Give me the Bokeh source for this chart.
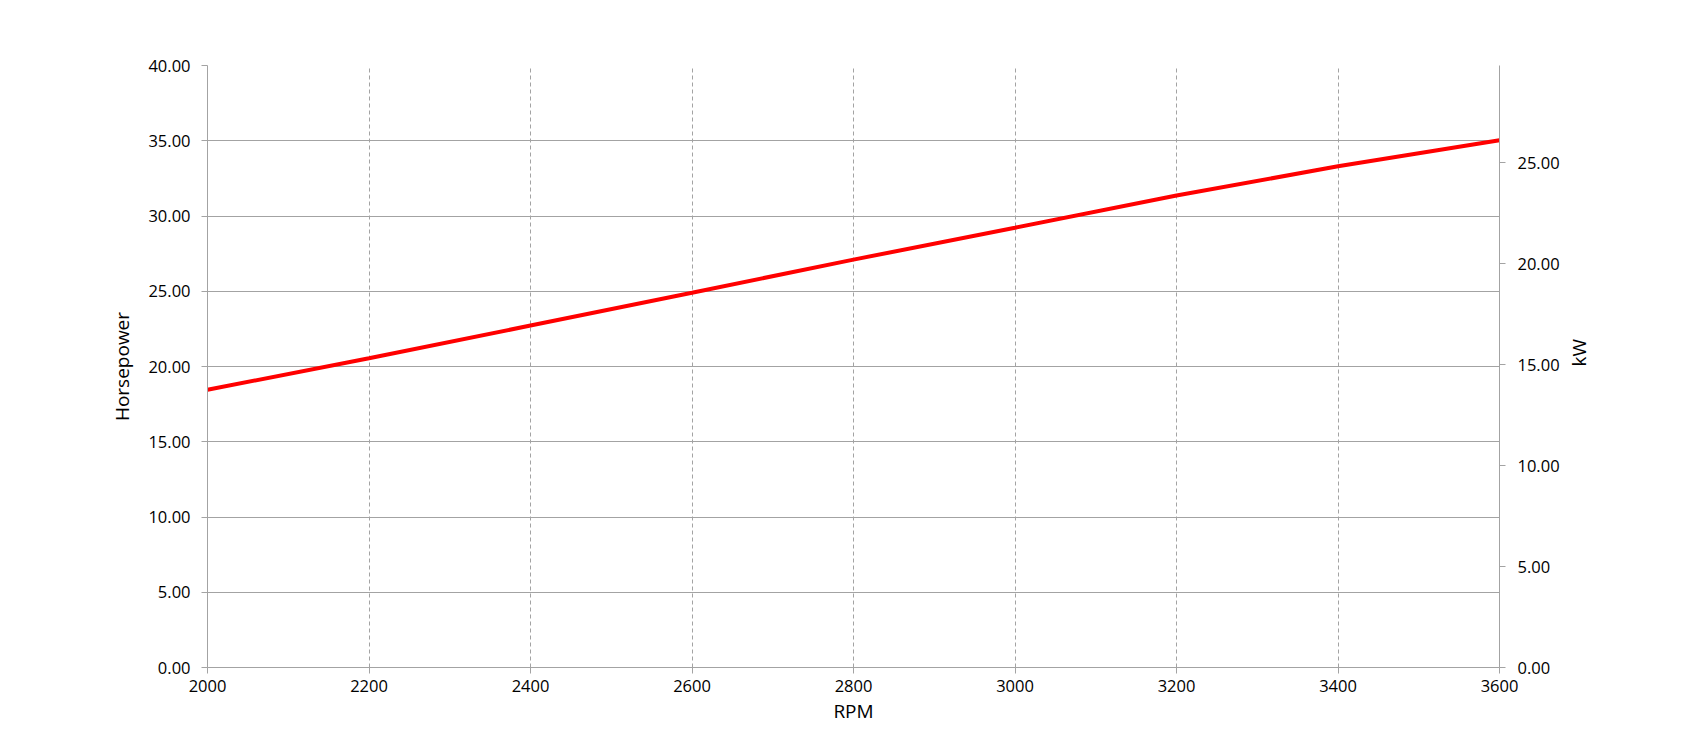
import math
from bokeh.plotting import figure
from bokeh.models import Range1d, LinearAxis, FixedTicker, PrintfTickFormatter
from bokeh.embed import file_html
from bokeh.resources import INLINE

# Data
rpm = [2000, 2200, 2400, 2600, 2800, 3000, 3200, 3400, 3600]
horsepower = [18.45, 20.55, 22.72, 24.9, 27.1, 29.22, 31.36, 33.3, 35.03]
x_ticks = [2000, 2200, 2400, 2600, 2800, 3000, 3200, 3400, 3600]
hp_ticks = [0, 5, 10, 15, 20, 25, 30, 35, 40]
kw_ticks = [0, 5, 10, 15, 20, 25]
hp_to_kw = 0.7457

FONT = "Open Sans"
GRID = "#a3a3a3"

p = figure(width=1667, height=739, output_backend="svg", toolbar_location=None,
           x_range=Range1d(2000, 3600), y_range=Range1d(0, 40),
           min_border_left=207, min_border_right=168, min_border_top=65, min_border_bottom=72)
p.outline_line_color = None
p.background_fill_color = "white"
p.border_fill_color = "white"

p.extra_y_ranges = {"kw": Range1d(0, 40 * hp_to_kw)}

# grids
p.xgrid.ticker = FixedTicker(ticks=x_ticks)
p.ygrid.ticker = FixedTicker(ticks=hp_ticks)
p.xgrid.grid_line_color = GRID
p.xgrid.grid_line_dash = "4 3"
p.xgrid.grid_line_width = 1
p.ygrid.grid_line_color = GRID
p.ygrid.grid_line_width = 1

def style_axis(ax):
    ax.axis_line_color = GRID
    ax.major_tick_line_color = GRID
    ax.minor_tick_line_color = None
    ax.major_tick_in = 0
    ax.major_tick_out = 6
    ax.major_label_text_font = FONT
    ax.major_label_text_font_size = "16.5px"
    ax.major_label_text_color = "black"
    ax.axis_label_text_font = FONT
    ax.axis_label_text_font_size = "19px"
    ax.axis_label_text_font_style = "normal"
    ax.axis_label_text_color = "black"

xa = p.xaxis[0]
style_axis(xa)
xa.ticker = FixedTicker(ticks=x_ticks)
xa.axis_label = "RPM"
xa.major_label_standoff = 6
xa.axis_label_standoff = 3

ya = p.yaxis[0]
style_axis(ya)
ya.ticker = FixedTicker(ticks=hp_ticks)
ya.formatter = PrintfTickFormatter(format="%.2f")
ya.axis_label = "Horsepower"
ya.major_label_standoff = 11
ya.axis_label_standoff = 10

ra = LinearAxis(y_range_name="kw", ticker=FixedTicker(ticks=kw_ticks),
                formatter=PrintfTickFormatter(format="%.2f"), axis_label="kW")
style_axis(ra)
ra.major_label_standoff = 12
ra.axis_label_standoff = 16
ra.axis_label_orientation = math.pi / 2
ra.axis_label_text_align = "center"
ra.axis_label_text_baseline = "middle"
p.add_layout(ra, "right")

p.line(rpm, horsepower, line_color="#ff0000", line_width=4)

open("out.html", "w").write(file_html(p, INLINE))
